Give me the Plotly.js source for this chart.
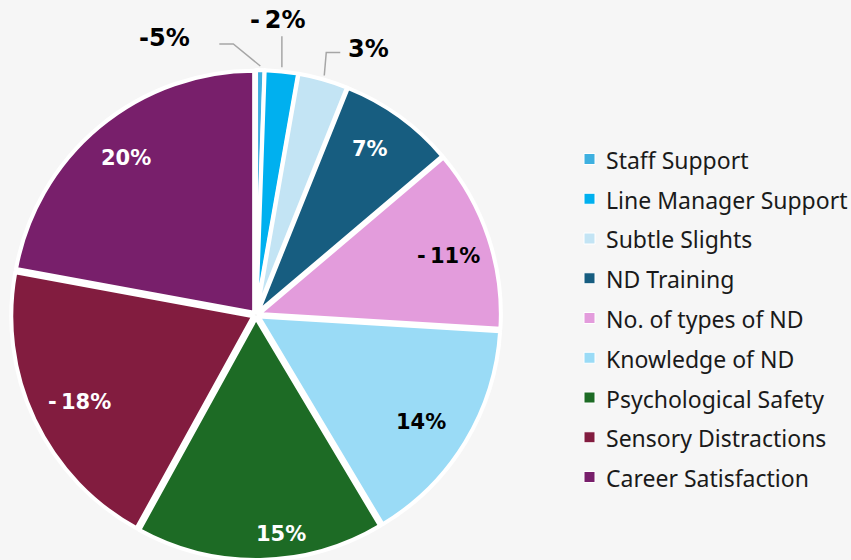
<!DOCTYPE html>
<html>
<head>
<meta charset="utf-8">
<script src="https://cdn.plot.ly/plotly-3.0.1.min.js"></script>
<style>
  html, body { margin: 0; padding: 0; background: #f6f6f6; }
  #chart { width: 851px; height: 560px; }
</style>
</head>
<body>
<div id="chart"></div>
<script>
// ---------------- DATA ----------------
const categories = [
  "Staff Support",
  "Line Manager Support",
  "Subtle Slights",
  "ND Training",
  "No. of types of ND",
  "Knowledge of ND",
  "Psychological Safety",
  "Sensory Distractions",
  "Career Satisfaction"
];
// signed values (%); slice size = magnitude
const values = [-0.5, -2, 3, 7, -11, 14, 15, -18, 20];
// data labels exactly as printed on the chart
const valueLabels = ["-5%", "-\u20092%", "3%", "7%", "-\u200911%", "14%", "15%", "-\u200918%", "20%"];

// ---------------- STYLE ----------------
const colors = ["#3eb0e0", "#00b0ef", "#c3e4f4", "#175d80", "#e39cdc",
                "#9adbf6", "#1d6b25", "#821c3f", "#781f6b"];
const labelColors = ["#000", "#000", "#000", "#fff", "#000", "#000", "#fff", "#fff", "#fff"];
const outside = [true, true, true, false, false, false, false, false, false];
const labelRadius = [0, 0, 0, 0.82, 0.82, 0.80, 0.90, 0.80, 0.83];
const labelAngleShift = [0, 0, 0, -1.5, 1.5, 1.5, -5.5, -1, 0];   // degrees
// leader-line layout for outside labels (pixel offsets from the rim point)
const leader = [
  {elbow: [-27, -22], end: [-41, -22], text: [-96, -28]},
  {elbow: [0, -31],   end: [0, -31],   text: [-4, -47]},
  {elbow: [2, -23],   end: [16, -23],  text: [44, -27]}
];

const W = 851, H = 560;
const pull = 0.012;
const dom = {x0: 10, x1: 502, y0: 70, y1: 560};   // pixel box of the pie domain
const cx = (dom.x0 + dom.x1) / 2, cy = (dom.y0 + dom.y1) / 2;
const R = Math.min(dom.x1 - dom.x0, dom.y1 - dom.y0) / 2 / (1 + pull);

const px = x => x / W;
const py = y => 1 - y / H;

const sizes = values.map(v => Math.abs(v));
const total = sizes.reduce((a, b) => a + b, 0);

const annotations = [];
const shapes = [];
let cum = 0;
let outIdx = 0;
sizes.forEach((s, i) => {
  const mid = (cum + s / 2) / total * 2 * Math.PI;
  cum += s;
  if (!outside[i]) {
    const a = mid + labelAngleShift[i] * Math.PI / 180;
    const rr = labelRadius[i] * R + pull * R;
    annotations.push({
      x: px(cx + rr * Math.sin(a)), y: py(cy - rr * Math.cos(a)), xref: "paper", yref: "paper",
      text: valueLabels[i], showarrow: false, xanchor: "center", yanchor: "middle",
      font: {family: "DejaVu Sans", size: 21, color: labelColors[i], weight: "bold"}
    });
  } else {
    const L = leader[outIdx++];
    const rr = R * (1 + pull) + 4;
    const sx = cx + rr * Math.sin(mid), sy = cy - rr * Math.cos(mid);
    shapes.push({
      type: "path", xref: "paper", yref: "paper",
      path: `M ${px(sx)},${py(sy)} L ${px(sx + L.elbow[0])},${py(sy + L.elbow[1])} L ${px(sx + L.end[0])},${py(sy + L.end[1])}`,
      line: {color: "#a6a6a6", width: 1.5}
    });
    annotations.push({
      x: px(sx + L.text[0]), y: py(sy + L.text[1]), xref: "paper", yref: "paper",
      text: valueLabels[i], showarrow: false, xanchor: "center", yanchor: "middle",
      font: {family: "DejaVu Sans", size: 24, color: labelColors[i], weight: "bold"}
    });
  }
});

// manual legend (to match the spacing of the original)
const legX = 584, legTop = 159, legStep = 39.75, sq = 11;
categories.forEach((c, i) => {
  const yc = legTop + i * legStep;
  shapes.push({
    type: "rect", xref: "paper", yref: "paper",
    x0: px(legX), x1: px(legX + sq), y0: py(yc - sq / 2), y1: py(yc + sq / 2),
    fillcolor: colors[i], line: {color: "#ffffff", width: 1}
  });
  annotations.push({
    x: px(legX + sq + 9), y: py(yc + 1), xref: "paper", yref: "paper",
    text: c, showarrow: false, xanchor: "left", yanchor: "middle",
    font: {family: "Noto Sans", size: 23, color: "#1a1a1a"}
  });
});

const trace = {
  type: "pie",
  labels: categories,
  values: sizes,
  sort: false,
  direction: "clockwise",
  rotation: 0,
  pull: pull,
  textinfo: "none",
  hoverinfo: "label+percent",
  marker: {colors: colors, line: {color: "#ffffff", width: 4}},
  domain: {x: [px(dom.x0), px(dom.x1)], y: [py(dom.y1), py(dom.y0)]},
  automargin: false,
  showlegend: false
};

const layout = {
  width: W, height: H,
  margin: {l: 0, r: 0, t: 0, b: 0},
  paper_bgcolor: "#f6f6f6",
  plot_bgcolor: "#f6f6f6",
  showlegend: false,
  annotations: annotations,
  shapes: shapes
};

Plotly.newPlot("chart", [trace], layout, {displayModeBar: false, staticPlot: true});
</script>
</body>
</html>
